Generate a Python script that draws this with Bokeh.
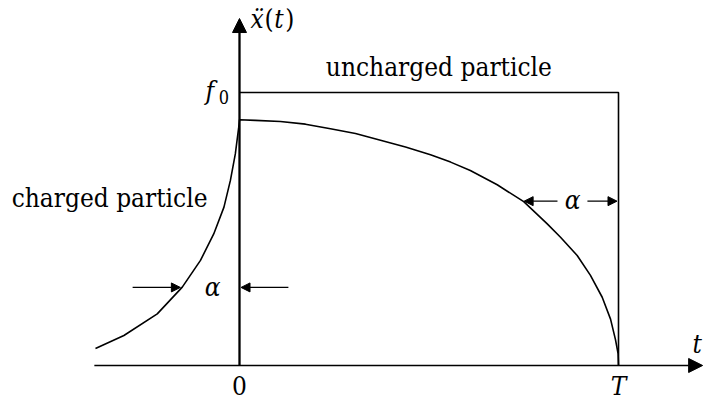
from bokeh.plotting import figure
from bokeh.models import Arrow, NormalHead, Label, Range1d
from bokeh.embed import file_html
from bokeh.resources import INLINE

# ---------------- data (t in units of T, acceleration in units of f0) ----------------
T_END = 1.0
F0 = 1.0

# charged particle: exponential pre-acceleration rise, then fall to zero at T
charged_t = [-0.380, -0.305, -0.217, -0.151, -0.103, -0.068, -0.041, -0.024, -0.011, -0.002,
             0.000, 0.042, 0.108, 0.174, 0.240, 0.306, 0.372, 0.438, 0.504, 0.557, 0.609,
             0.680, 0.750, 0.812, 0.847, 0.891, 0.926, 0.957, 0.979, 0.992, 0.999, 1.000]
charged_a = [0.062, 0.110, 0.189, 0.287, 0.385, 0.482, 0.580, 0.678, 0.775, 0.873,
             0.900, 0.898, 0.894, 0.884, 0.867, 0.850, 0.825, 0.800, 0.772, 0.745, 0.714,
             0.662, 0.600, 0.519, 0.470, 0.403, 0.330, 0.250, 0.170, 0.095, 0.043, 0.000]

# uncharged particle: constant f0 on [0, T]
uncharged_t = [0.0, T_END, T_END]
uncharged_a = [F0, F0, 0.0]

tick_positions = [0.0, T_END]
tick_labels = ["0", "T"]

FONT = "DejaVu Serif Condensed"
DY = 0.033  # baseline correction for the svg text renderer

p = figure(width=703, height=401, output_backend="svg", toolbar_location=None,
           x_range=Range1d(-0.63061, 1.22427), y_range=Range1d(-0.13187, 1.33700),
           min_border=0)
p.axis.visible = False
p.grid.visible = False
p.outline_line_color = None
p.background_fill_color = "white"

# axes with arrows
p.add_layout(Arrow(end=NormalHead(size=14, fill_color="black", line_color="black", line_width=1),
                   x_start=-0.383, y_start=0.0, x_end=1.222, y_end=0.0,
                   line_color="black", line_width=1.7))
p.add_layout(Arrow(end=NormalHead(size=14, fill_color="black", line_color="black", line_width=1),
                   x_start=0.0, y_start=0.0, x_end=0.0, y_end=1.271,
                   line_color="black", line_width=2.3))

# curves
p.line(uncharged_t, uncharged_a, line_color="black", line_width=1.6)
p.line(charged_t, charged_a, line_color="black", line_width=1.6, line_join="round")

# alpha width markers
def small_arrow(x0, x1, y):
    p.add_layout(Arrow(end=NormalHead(size=9, fill_color="black", line_color="black", line_width=1),
                       x_start=x0, y_start=y, x_end=x1, y_end=y,
                       line_color="black", line_width=1.3))

small_arrow(-0.282, -0.156, 0.286)
small_arrow(0.129, 0.004, 0.286)
small_arrow(0.839, 0.751, 0.602)
small_arrow(0.918, 0.996, 0.602)

def lab(x, y, text, size=26, italic=False, align="left"):
    p.add_layout(Label(x=x, y=y + DY, text=text, text_font=FONT, text_font_size=f"{size}px",
                       text_font_style="italic" if italic else "normal",
                       text_align=align, text_baseline="alphabetic", text_color="black"))

# alpha labels
lab(-0.071, 0.256, "α", italic=True, align="center")
lab(0.879, 0.575, "α", italic=True, align="center")

# texts
lab(0.526, 1.062, "uncharged particle", align="center")
lab(-0.0844, 0.579, "charged particle", align="right")

# axis titles
lab(0.029, 1.238, "ẍ", italic=True)
lab(0.066, 1.238, "(")
lab(0.092, 1.238, "t", italic=True)
lab(0.121, 1.238, ")")
lab(1.195, 0.044, "t", italic=True)

# f0 label
lab(-0.090, 0.971, "f", italic=True)
lab(-0.055, 0.949, "0", size=18)

# tick labels
for tp, tl in zip(tick_positions, tick_labels):
    lab(tp, -0.107, tl, italic=(tl != "0"), align="center")

open("out.html", "w").write(file_html(p, INLINE))
